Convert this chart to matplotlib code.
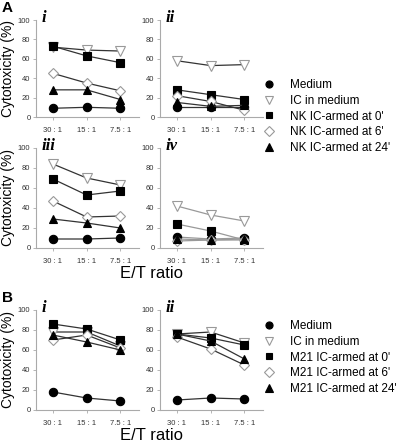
import numpy as np
import matplotlib.pyplot as plt
from matplotlib.lines import Line2D

plt.rcParams["font.family"] = ["Liberation Sans", "DejaVu Sans"]

ratios = ["30 : 1", "15 : 1", "7.5 : 1"]

names_a = ["Medium", "IC in medium", "NK IC-armed at 0'", "NK IC-armed at 6'", "NK IC-armed at 24'"]
names_b = ["Medium", "IC in medium", "M21 IC-armed at 0'", "M21 IC-armed at 6'", "M21 IC-armed at 24'"]

# cytotoxicity (%) per panel, order: medium, IC, armed 0', 6', 24'
a_i = [[9, 10, 9], [72, 69, 68], [73, 63, 56], [45, 35, 27], [28, 28, 18]]
a_ii = [[10, 10, 10], [58, 53, 54], [28, 23, 18], [22, 16, 7], [15, 11, 12]]
a_iii = [[9, 9, 10], [84, 70, 63], [69, 53, 57], [47, 31, 32], [29, 25, 20]]
a_iv = [[11, 9, 10], [42, 33, 27], [24, 17, 8], [7, 8, 8], [9, 8, 9]]
b_i = [[18, 12, 9], [78, 78, 64], [86, 81, 70], [70, 75, 62], [75, 68, 60]]
b_ii = [[10, 12, 11], [76, 78, 67], [76, 72, 65], [73, 61, 45], [76, 69, 51]]

styles = [
    dict(marker="o", mfc="black", mec="black", ms=6),
    dict(marker="v", mfc="white", mec="#999999", ms=7),
    dict(marker="s", mfc="black", mec="black", ms=5.5),
    dict(marker="D", mfc="white", mec="#999999", ms=5.5),
    dict(marker="^", mfc="black", mec="black", ms=6),
]

W, H = 400, 443
fig = plt.figure(figsize=(4, 4.43), dpi=100)


def px_axes(left, right, top, bottom):
    return fig.add_axes([left / W, 1 - bottom / H, (right - left) / W, (bottom - top) / H])


def panel(ax, data, label, names, linecolor="#333333", ylab=True):
    x = np.arange(1, 4)
    for vals, st, nm in zip(data, styles, names):
        ax.plot(x, vals, color=linecolor, lw=0.9, mew=0.8, label=nm, zorder=3, **st)
    ax.set_xlim(0.5, 3.55)
    ax.set_ylim(0, 100)
    ax.set_yticks(range(0, 101, 20))
    ax.set_xticks(x)
    ax.set_xticklabels(ratios)
    for s in ["top", "right"]:
        ax.spines[s].set_visible(False)
    for s in ["left", "bottom"]:
        ax.spines[s].set_color("#aaaaaa")
        ax.spines[s].set_linewidth(0.8)
    ax.tick_params(labelsize=5.5, length=2, width=0.6, color="#aaaaaa", labelcolor="#333333", pad=2)
    ax.tick_params(axis="x", pad=5)
    if ylab:
        ax.set_ylabel("Cytotoxicity (%)", fontsize=10, labelpad=2)
    ax.text(0.05, 1.02, label, transform=ax.transAxes, fontsize=12, fontweight="bold",
            fontstyle="italic", family="Liberation Serif", va="center", ha="left")


ax1 = px_axes(36, 139, 20, 117)
ax2 = px_axes(160, 263, 20, 117)
ax3 = px_axes(36, 139, 148, 248)
ax4 = px_axes(160, 263, 148, 248)
ax5 = px_axes(36, 139, 310, 410)
ax6 = px_axes(160, 263, 310, 410)

panel(ax1, a_i, "i", names_a)
panel(ax2, a_ii, "ii", names_a, ylab=False)
panel(ax3, a_iii, "iii", names_a)
panel(ax4, a_iv, "iv", names_a, linecolor="#999999", ylab=False)
panel(ax5, b_i, "i", names_b)
panel(ax6, b_ii, "ii", names_b, ylab=False)

for names, y in [(names_a, 1 - 79 / H), (names_b, 1 - 320 / H)]:
    hh = [Line2D([], [], ls="none", mew=0.8, **dict(st, ms=st["ms"] * 0.85)) for st in styles]
    fig.legend(handles=hh, labels=names, loc="upper left", bbox_to_anchor=(262 / W, y), frameon=False,
               fontsize=8.5, handlelength=1.2, handletextpad=1.2, labelspacing=0.32,
               borderaxespad=0, borderpad=0)

fig.text(152 / W, 1 - 273 / H, "E/T ratio", fontsize=12, ha="center", va="center")
fig.text(152 / W, 1 - 435 / H, "E/T ratio", fontsize=12, ha="center", va="center")
fig.text(2 / W, 1 - 8 / H, "A", fontsize=11, fontweight="bold", va="center")
fig.text(2 / W, 1 - 298 / H, "B", fontsize=11, fontweight="bold", va="center")

fig.savefig("out.png", dpi=100)
